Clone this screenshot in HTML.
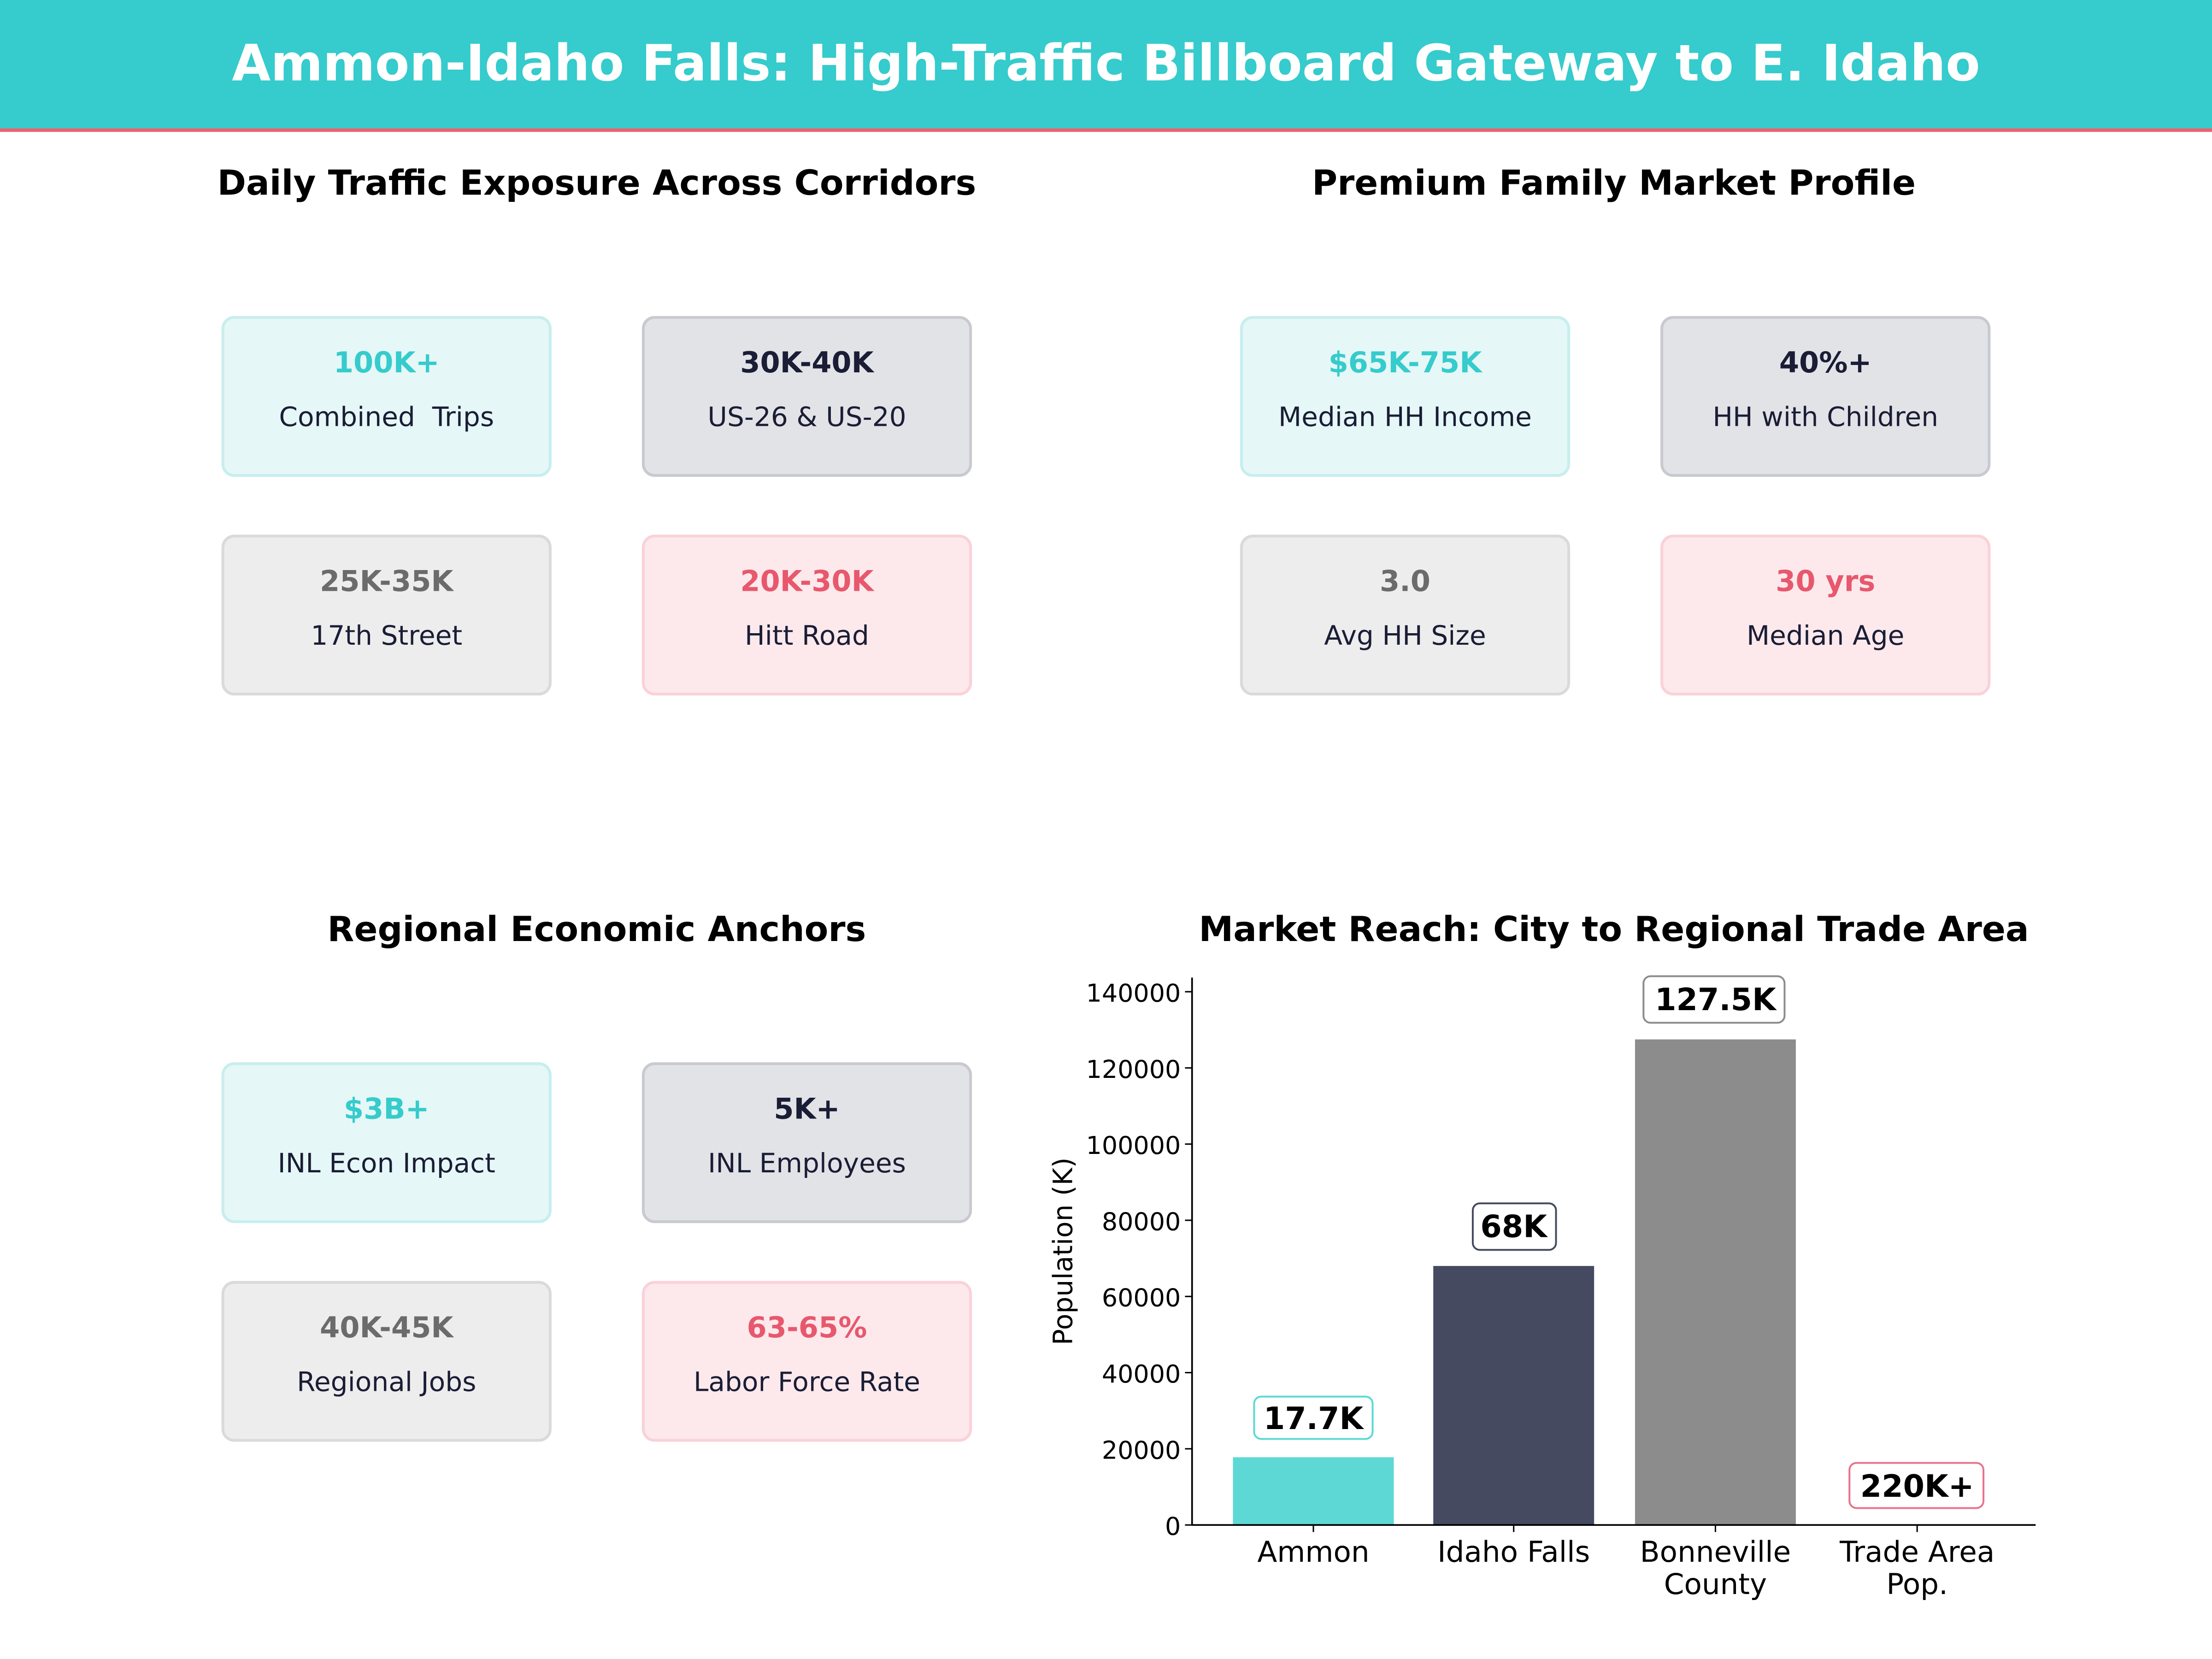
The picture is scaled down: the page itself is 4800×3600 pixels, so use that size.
<!DOCTYPE html>
<html><head><meta charset="utf-8"><style>html,body{margin:0;padding:0;background:#fff}svg{display:block}text{font-family:"DejaVu Sans","Liberation Sans",sans-serif}</style></head>
<body>
<svg xmlns="http://www.w3.org/2000/svg" width="4800" height="3600" viewBox="0 0 1568 1176">
<rect width="1568" height="1176" fill="#fff"/>
<rect width="1568" height="91" fill="#36CBCC"/>
<rect y="91" width="1568" height="2.5" fill="#E8636F"/>
<text x="784" y="57" text-anchor="middle" font-size="35.5" font-weight="bold" fill="#fff">Ammon-Idaho Falls: High-Traffic Billboard Gateway to E. Idaho</text>

<g font-size="24.6" font-weight="bold" fill="#000" text-anchor="middle">
<text x="423" y="138">Daily Traffic Exposure Across Corridors</text>
<text x="1144" y="138">Premium Family Market Profile</text>
<text x="423" y="667">Regional Economic Anchors</text>
<text x="1144" y="667">Market Reach: City to Regional Trade Area</text>
</g>

<defs>
<g id="c0"><rect width="232" height="112" rx="8" fill="#E5F7F7" stroke="#C8EEEE" stroke-width="2"/></g>
<g id="c1"><rect width="232" height="112" rx="8" fill="#E2E3E7" stroke="#C9CAD0" stroke-width="2"/></g>
<g id="c2"><rect width="232" height="112" rx="8" fill="#EDEDED" stroke="#DADADA" stroke-width="2"/></g>
<g id="c3"><rect width="232" height="112" rx="8" fill="#FDE9EC" stroke="#F9D2D8" stroke-width="2"/></g>
</defs>

<g text-anchor="middle">
<use href="#c0" x="158" y="225"/><use href="#c1" x="456" y="225"/><use href="#c2" x="158" y="380"/><use href="#c3" x="456" y="380"/>
<text x="274" y="264" font-size="20.3" font-weight="bold" fill="#36CBCC">100K+</text><text x="274" y="302" font-size="19" fill="#1A1D35">Combined&#160; Trips</text>
<text x="572" y="264" font-size="20.3" font-weight="bold" fill="#1A1D35">30K-40K</text><text x="572" y="302" font-size="19" fill="#1A1D35">US-26 &amp; US-20</text>
<text x="274" y="419" font-size="20.3" font-weight="bold" fill="#6B6B6B">25K-35K</text><text x="274" y="457" font-size="19" fill="#1A1D35">17th Street</text>
<text x="572" y="419" font-size="20.3" font-weight="bold" fill="#E8586D">20K-30K</text><text x="572" y="457" font-size="19" fill="#1A1D35">Hitt Road</text>

<use href="#c0" x="880" y="225"/><use href="#c1" x="1178" y="225"/><use href="#c2" x="880" y="380"/><use href="#c3" x="1178" y="380"/>
<text x="996" y="264" font-size="20.3" font-weight="bold" fill="#36CBCC">$65K-75K</text><text x="996" y="302" font-size="19" fill="#1A1D35">Median HH Income</text>
<text x="1294" y="264" font-size="20.3" font-weight="bold" fill="#1A1D35">40%+</text><text x="1294" y="302" font-size="19" fill="#1A1D35">HH with Children</text>
<text x="996" y="419" font-size="20.3" font-weight="bold" fill="#6B6B6B">3.0</text><text x="996" y="457" font-size="19" fill="#1A1D35">Avg HH Size</text>
<text x="1294" y="419" font-size="20.3" font-weight="bold" fill="#E8586D">30 yrs</text><text x="1294" y="457" font-size="19" fill="#1A1D35">Median Age</text>

<use href="#c0" x="158" y="754"/><use href="#c1" x="456" y="754"/><use href="#c2" x="158" y="909"/><use href="#c3" x="456" y="909"/>
<text x="274" y="793" font-size="20.3" font-weight="bold" fill="#36CBCC">$3B+</text><text x="274" y="831" font-size="19" fill="#1A1D35">INL Econ Impact</text>
<text x="572" y="793" font-size="20.3" font-weight="bold" fill="#1A1D35">5K+</text><text x="572" y="831" font-size="19" fill="#1A1D35">INL Employees</text>
<text x="274" y="948" font-size="20.3" font-weight="bold" fill="#6B6B6B">40K-45K</text><text x="274" y="986" font-size="19" fill="#1A1D35">Regional Jobs</text>
<text x="572" y="948" font-size="20.3" font-weight="bold" fill="#E8586D">63-65%</text><text x="572" y="986" font-size="19" fill="#1A1D35">Labor Force Rate</text>
</g>

<rect x="874" y="1033" width="114" height="48" fill="#5DD8D5"/>
<rect x="1016" y="897.4" width="114" height="183.6" fill="#454A60"/>
<rect x="1159" y="736.8" width="114" height="344.2" fill="#8C8C8C"/>
<line x1="845" y1="693" x2="845" y2="1081.5" stroke="#000" stroke-width="1.2"/>
<line x1="845" y1="1081" x2="1443" y2="1081" stroke="#000" stroke-width="1.2"/>
<g stroke="#000" stroke-width="1">
<line x1="840" y1="1081" x2="845" y2="1081"/><line x1="840" y1="1027" x2="845" y2="1027"/><line x1="840" y1="973" x2="845" y2="973"/><line x1="840" y1="919" x2="845" y2="919"/><line x1="840" y1="865" x2="845" y2="865"/><line x1="840" y1="811" x2="845" y2="811"/><line x1="840" y1="757" x2="845" y2="757"/><line x1="840" y1="703" x2="845" y2="703"/>
<line x1="931" y1="1081" x2="931" y2="1086"/><line x1="1073" y1="1081" x2="1073" y2="1086"/><line x1="1216" y1="1081" x2="1216" y2="1086"/><line x1="1359" y1="1081" x2="1359" y2="1086"/>
</g>
<g font-size="17.6" text-anchor="end" fill="#000">
<text x="837" y="1088">0</text><text x="837" y="1034">20000</text><text x="837" y="980">40000</text><text x="837" y="926">60000</text><text x="837" y="872">80000</text><text x="837" y="818">100000</text><text x="837" y="764">120000</text><text x="837" y="710">140000</text>
</g>
<text transform="translate(760,887) rotate(-90)" text-anchor="middle" font-size="19" fill="#000">Population (K)</text>
<g font-size="20.5" text-anchor="middle" fill="#000">
<text x="931" y="1107">Ammon</text><text x="1073" y="1107">Idaho Falls</text>
<text x="1216" y="1107">Bonneville</text><text x="1216" y="1130">County</text>
<text x="1359" y="1107">Trade Area</text><text x="1359" y="1130">Pop.</text>
</g>
<g font-size="21.8" font-weight="bold" text-anchor="middle" fill="#000">
<rect x="889" y="990" width="84" height="30" rx="5" fill="#fff" stroke="#5DD8D5" stroke-width="1.3"/><text x="931" y="1013">17.7K</text>
<rect x="1044" y="853" width="59" height="33" rx="5" fill="#fff" stroke="#454A60" stroke-width="1.3"/><text x="1073" y="877">68K</text>
<rect x="1165" y="692" width="100" height="33" rx="5" fill="#fff" stroke="#8C8C8C" stroke-width="1.3"/><text x="1216" y="716">127.5K</text>
<rect x="1311" y="1037" width="95" height="32" rx="5" fill="#fff" stroke="#E8728A" stroke-width="1.3"/><text x="1359" y="1061">220K+</text>
</g>
</svg>
</body></html>
